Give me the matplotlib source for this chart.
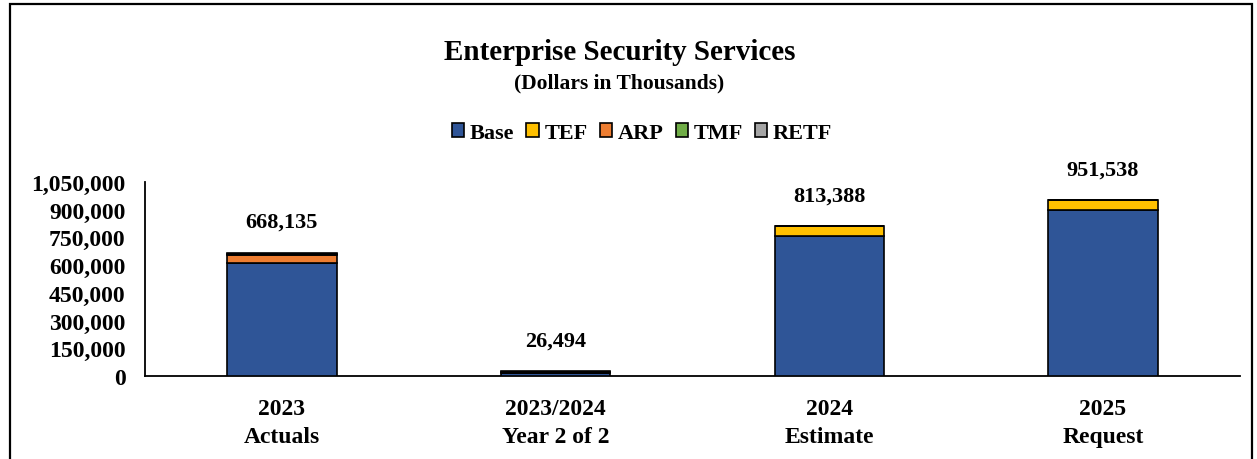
import matplotlib
matplotlib.use("Agg")
import matplotlib.pyplot as plt
from matplotlib.patches import Rectangle, Patch
from matplotlib.ticker import FuncFormatter
import numpy as np

categories = ["2023\nActuals", "2023/2024\nYear 2 of 2", "2024\nEstimate", "2025\nRequest"]
series_names = ["Base", "TEF", "ARP", "TMF", "RETF"]
base = [611000, 15000, 758000, 897000]
tef = [2000, 0, 55388, 54538]
arp = [44000, 0, 0, 0]
tmf = [6000, 7000, 0, 0]
retf = [5135, 4494, 0, 0]
totals = [668135, 26494, 813388, 951538]
y_ticks = [0, 150000, 300000, 450000, 600000, 750000, 900000, 1050000]

colors = ["#2F5597", "#FFC000", "#ED7D31", "#70AD47", "#A5A5A5"]

plt.rcParams["font.family"] = ["Liberation Serif", "DejaVu Serif"]
plt.rcParams["font.weight"] = "bold"

fig = plt.figure(figsize=(12.57, 4.60), dpi=100)
ax = fig.add_axes([0.1154, 0.1804, 0.871, 0.4218])

x = np.arange(len(categories))
bottom = np.zeros(len(categories))
for name, vals, col in zip(series_names, [base, tef, arp, tmf, retf], colors):
    vals = np.array(vals, dtype=float)
    ax.bar(x, vals, width=0.4, bottom=bottom, color=col, edgecolor="black",
           linewidth=1.2, label=name, zorder=3)
    bottom += vals

for xi, tot in zip(x, totals):
    ax.annotate(f"{tot:,}", xy=(xi, tot), xytext=(0, 22), textcoords="offset points",
                ha="center", va="center", fontsize=16, fontweight="bold")

ax.set_xlim(-0.5, 3.5)
ax.set_ylim(0, 1050000)
ax.set_yticks(y_ticks)
ax.yaxis.set_major_formatter(FuncFormatter(lambda v, p: f"{int(v):,}"))
ax.set_xticks(x)
ax.set_xticklabels(categories, fontsize=17, fontweight="bold", linespacing=1.42)
ax.tick_params(axis="y", length=0, pad=14, labelsize=17)
ax.tick_params(axis="x", length=0, pad=16)
for lbl in ax.get_yticklabels():
    lbl.set_fontweight("bold")
for s in ["top", "right"]:
    ax.spines[s].set_visible(False)
for s in ["left", "bottom"]:
    ax.spines[s].set_color("black")
    ax.spines[s].set_linewidth(1.3)

# Outer frame around the chart area
frame = Rectangle((10 / 1257, -0.05), 1242 / 1257, 1 - 5 / 460 + 0.05,
                  transform=fig.transFigure, fill=False, edgecolor="black",
                  linewidth=1.6, zorder=0)
fig.patches.append(frame)

fig.text(620 / 1257, 1 - 53 / 460, "Enterprise Security Services", ha="center", va="center",
         fontsize=21, fontweight="bold")
fig.text(619 / 1257, 1 - 83 / 460, "(Dollars in Thousands)", ha="center", va="center",
         fontsize=15.5, fontweight="bold")

handles = [Patch(facecolor=c, edgecolor="black", linewidth=1.2) for c in colors]
fig.legend(handles, series_names, loc="center", bbox_to_anchor=(642 / 1257, 1 - 134 / 460),
           ncol=5, frameon=False, handlelength=0.55, handleheight=0.55,
           handletextpad=0.25, columnspacing=0.55, prop={"weight": "bold", "size": 16})

fig.savefig("out.png", dpi=100, facecolor="white")
